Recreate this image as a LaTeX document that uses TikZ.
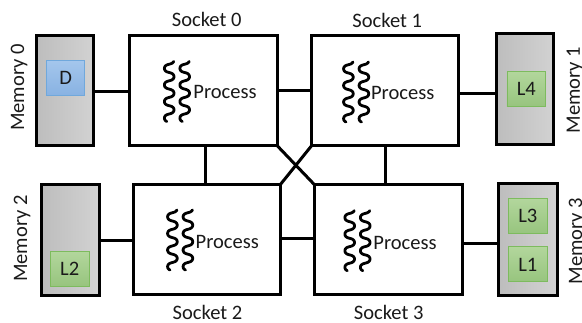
\documentclass[tikz,border=0pt]{standalone}
\usepackage{fontspec}
\setmainfont{Carlito}
\definecolor{grayL}{HTML}{BDBDBD}
\definecolor{grayR}{HTML}{D2D2D2}
\definecolor{blueT}{HTML}{A4C6EC}
\definecolor{blueB}{HTML}{88B2E2}
\definecolor{blueD}{HTML}{70A8DC}
\definecolor{greenT}{HTML}{B2D69C}
\definecolor{greenB}{HTML}{97C47E}
\definecolor{greenD}{HTML}{7DBB5E}
\definecolor{ink}{HTML}{1A1A1A}
\tikzset{
  txt/.style={font=\fontsize{15.4pt}{17pt}\selectfont,inner sep=0pt,text=ink},
  sock/.style={draw=black,line width=2.25pt,fill=white,inner sep=0pt,outer sep=0pt},
  memo/.style={draw=black,line width=2.25pt,left color=grayL,right color=grayR,inner sep=0pt,outer sep=0pt},
  blk/.style={line width=0.7pt,inner sep=0pt,outer sep=0pt,minimum width=29pt,minimum height=26.3pt,font=\fontsize{15.4pt}{17pt}\selectfont,text=ink},
  greenblk/.style={blk,draw=greenD,top color=greenT,bottom color=greenB},
  blueblk/.style={blk,draw=blueD,top color=blueT,bottom color=blueB},
  link/.style={line width=2.25pt,draw=black},
  wave/.style={line width=2.1pt,line cap=round,draw=black}
}
\newcommand{\sockbox}[5]{\node[sock,minimum width=#4*0.75pt,minimum height=#5*0.75pt] (#1) at (#2,#3) {};}
\newcommand{\membox}[5]{\node[memo,minimum width=#4*0.75pt,minimum height=#5*0.75pt] (#1) at (#2,#3) {};}
\newcommand{\threads}[4]{%
  \foreach \xo in {0,15.5}{
    \draw[wave] plot[domain=110:1410,samples=130,smooth] ({#1+0.7+\xo+4.8*sin(\x)},{#2+1.5+(\x-110)/21.7-0.7*sin(2*\x)});
  }
  \node[txt] (#4) at (#3) {Process};
}
\begin{document}
\begin{tikzpicture}[x=0.75pt,y=-0.75pt]
\useasboundingbox (0,0) rectangle (582,323);
\sockbox{s0}{203}{90.5}{148}{110}
\sockbox{s1}{385}{90.5}{146.5}{110}
\sockbox{s2}{206.5}{240}{147}{110}
\sockbox{s3}{388.4}{240}{147.3}{110}
\membox{m0}{64.8}{90.3}{57.5}{110.5}
\membox{m1}{524.9}{89.1}{57.7}{111.2}
\membox{m2}{70.2}{240.3}{58.3}{111.3}
\membox{m3}{527.9}{239.4}{58.3}{111.3}
\draw[link] (m0.east |- 0,91.7) -- (s0.west |- 0,91.7);
\draw[link] (s0.east |- 0,90.5) -- (s1.west |- 0,90.5);
\draw[link] (s1.east |- 0,93.3) -- (m1.west |- 0,93.3);
\draw[link] (m2.east |- 0,241) -- (s2.west |- 0,241);
\draw[link] (s2.east |- 0,238.7) -- (s3.west |- 0,238.7);
\draw[link] (s3.east |- 0,243.3) -- (m3.west |- 0,243.3);
\draw[link] (s0.south -| 205.7,0) -- (s2.north -| 205.7,0);
\draw[link] (s1.south -| 385.7,0) -- (s3.north -| 385.7,0);
\draw[link] (s0.south east) -- (s3.north west);
\draw[link] (s1.south west) -- (s2.north east);
\node[blueblk] (d) at (65.6,78) {D};
\node[greenblk] (l4) at (526.3,89.2) {L4};
\node[greenblk] (l2) at (69.7,269.2) {L2};
\node[greenblk] (l3) at (527.8,216.4) {L3};
\node[greenblk] (l1) at (527.8,264.4) {L1};
\threads{168.5}{59.5}{225,92}{p0}
\threads{347.7}{60}{402.7,93}{p1}
\threads{171.7}{208}{227.3,242}{p2}
\threads{349}{208.7}{405,243}{p3}
\node[txt] (ls0) at (206.7,19) {Socket 0};
\node[txt] (ls1) at (387.3,20) {Socket 1};
\node[txt] (ls2) at (207.5,312.7) {Socket 2};
\node[txt] (ls3) at (388.7,312) {Socket 3};
\node[txt,rotate=90] (lm0) at (19,87.5) {Memory 0};
\node[txt,rotate=90] (lm1) at (575,90) {Memory 1};
\node[txt,rotate=90] (lm2) at (22,238.5) {Memory 2};
\node[txt,rotate=90] (lm3) at (577,241) {Memory 3};
\end{tikzpicture}
\end{document}
